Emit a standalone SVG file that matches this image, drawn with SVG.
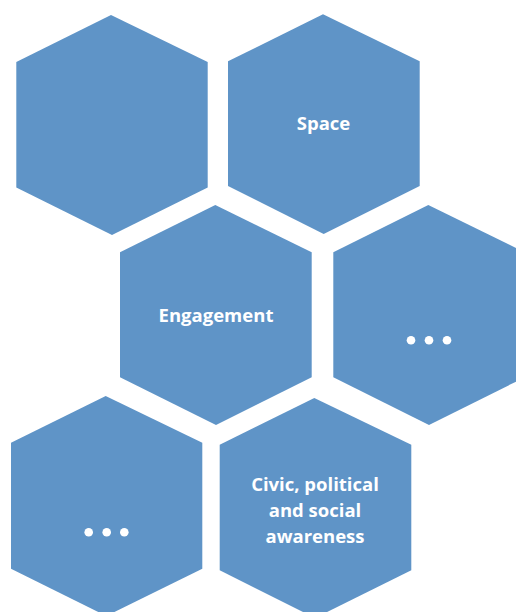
<svg xmlns="http://www.w3.org/2000/svg" width="516" height="612" viewBox="0 0 516 612">
<style>
.hex{fill:#5f94c7;}
.lbl{font-family:"Open Sans","Liberation Sans",sans-serif;font-weight:700;font-size:18.5px;fill:#ffffff;text-anchor:middle;}
.dot{fill:#ffffff;}
</style>
<rect width="516" height="612" fill="#ffffff"/>
<g id="node-1">
<polygon class="hex" points="111,15 207.7,62 207.7,187.5 112,235 16.3,187.5 16.3,62"/>
</g>
<g id="node-space">
<polygon class="hex" points="323,14.3 419.7,61.3 419.7,186 323.7,234 228,186 228,61.3"/>
<text class="lbl" x="323.5" y="130">Space</text>
</g>
<g id="node-engagement">
<polygon class="hex" points="215.3,205 311.7,252.3 311.7,377.3 216,425 120,377.3 120,252.3"/>
<text class="lbl" x="216" y="321.7">Engagement</text>
</g>
<g id="node-dots-1">
<polygon class="hex" points="428.3,205 524.7,252.3 524.7,377.3 429,425 333.3,377.3 333.3,252.3"/>
<circle class="dot" cx="411" cy="340.3" r="4.3"/>
<circle class="dot" cx="429" cy="340.3" r="4.3"/>
<circle class="dot" cx="447" cy="340.3" r="4.3"/>
</g>
<g id="node-dots-2">
<polygon class="hex" points="105.7,396 202.3,442.7 202.3,568.7 106.3,616 11,568.7 11,442.7"/>
<circle class="dot" cx="88.7" cy="532.3" r="4.3"/>
<circle class="dot" cx="106.7" cy="532.3" r="4.3"/>
<circle class="dot" cx="124.3" cy="532.3" r="4.3"/>
</g>
<g id="node-civic">
<polygon class="hex" points="314.3,398 411.3,444.7 411.3,570.3 315,618 219.7,570.3 219.7,444.7"/>
<text class="lbl" x="315" y="491">Civic, political</text>
<text class="lbl" x="315" y="517">and social</text>
<text class="lbl" x="315" y="543">awareness</text>
</g>
<g id="connectors"></g>
</svg>
